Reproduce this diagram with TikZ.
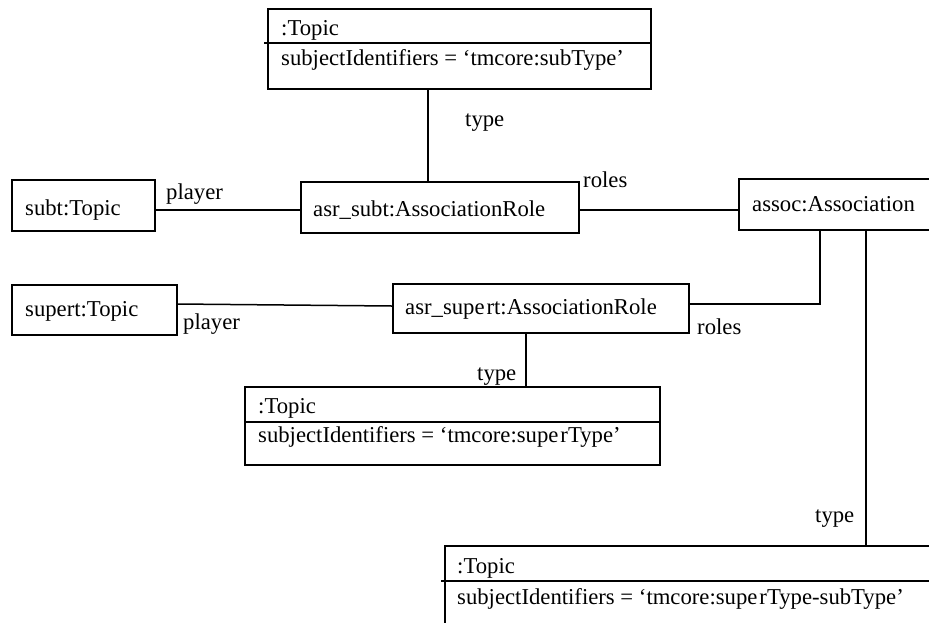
\documentclass[tikz,border=0pt]{standalone}
\usepackage{fontspec}
\setmainfont{Liberation Serif}
\begin{document}
\begin{tikzpicture}[x=1pt,y=-1pt,
  obj/.style={draw, line width=1.5pt, rectangle, inner sep=0pt, anchor=north west},
  lbl/.style={anchor=base west, inner sep=0pt, font=\fontsize{22.7}{26}\selectfont},
  wire/.style={line width=1.5pt}]
\useasboundingbox (0,0) rectangle (929,622);
\clip (0,0) rectangle (929,622);
% helper coordinates
\coordinate (x428) at (428,0);
\coordinate (x820) at (820,0);
\coordinate (x866) at (866,0);
\coordinate (x526) at (526,0);
\coordinate (y43) at (0,43);
\coordinate (y422) at (0,422);
\coordinate (y581) at (0,581);
\coordinate (y210) at (0,210);
\coordinate (y304) at (0,304);
\coordinate (y306) at (0,306);
% boxes
\node[obj, minimum width=383pt, minimum height=80pt] (topT) at (267,8) {};
\node[obj, minimum width=143pt, minimum height=51pt] (subtT) at (11,179) {};
\node[obj, minimum width=278pt, minimum height=51pt] (asrSub) at (300,181) {};
\node[obj, minimum width=300pt, minimum height=51pt] (assoc) at (738,178) {};
\node[obj, minimum width=165pt, minimum height=50pt] (supertT) at (11,284) {};
\node[obj, minimum width=296pt, minimum height=49pt] (asrSup) at (392,283) {};
\node[obj, minimum width=415pt, minimum height=78pt] (midT) at (244,386) {};
\node[obj, minimum width=600pt, minimum height=120pt] (botT) at (444,545) {};
% dividers
\draw[wire] (topT.west |- y43) ++(-3,0) -- (topT.east |- y43);
\draw[wire] (midT.west |- y422) -- (midT.east |- y422);
\draw[wire] (botT.west |- y581) ++(-3,0) -- (botT.east |- y581);
% texts
\node[lbl] (t1a) at (281,35) {:Topic};
\node[lbl] (t1b) at (281,65) {subjectIdentifiers = ‘tmcore:subType’};
\node[lbl] (t2) at (25,215) {subt:Topic};
\node[lbl] (t3) at (313,216) {asr\_subt:AssociationRole};
\node[lbl] (t4) at (752,211) {assoc:Association};
\node[lbl] (t5) at (25,316) {supert:Topic};
\node[lbl] (t6) at (405,314) {asr\_supe\kern2pt rt:AssociationRole};
\node[lbl] (t7a) at (258,413) {:Topic};
\node[lbl] (t7b) at (258,442) {subjectIdentifiers = ‘tmcore:supe\kern2pt rType’};
\node[lbl] (t8a) at (457,573) {:Topic};
\node[lbl] (t8b) at (457,604) {subjectIdentifiers = ‘tmcore:supe\kern2pt rType-subType’};
% connector labels
\node[lbl] (l1) at (465,126) {type};
\node[lbl] (l2) at (583,187) {roles};
\node[lbl] (l3) at (166,199) {player};
\node[lbl] (l4) at (183,329) {player};
\node[lbl] (l5) at (697,334) {roles};
\node[lbl] (l6) at (477,380) {type};
\node[lbl] (l7) at (815,522) {type};
% connectors
\draw[wire] (topT.south -| x428) -- (asrSub.north -| x428);
\draw[wire] (subtT.east |- y210) -- (asrSub.west |- y210);
\draw[wire] (asrSub.east |- y210) -- (assoc.west |- y210);
\draw[wire] (assoc.south -| x820) |- (asrSup.east |- y304);
\draw[wire] (assoc.south -| x866) -- (botT.north -| x866);
\draw[wire] (supertT.east |- y304) -- (asrSup.west |- y306);
\draw[wire] (asrSup.south -| x526) -- (midT.north -| x526);
\end{tikzpicture}
\end{document}
